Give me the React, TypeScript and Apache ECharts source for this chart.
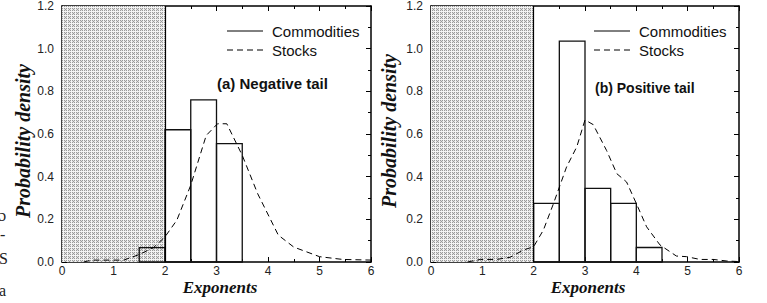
import React, { useEffect, useRef } from "react";
import * as echarts from "echarts";

// ---------- data ----------
const xTicks = [0, 1, 2, 3, 4, 5, 6];
const yTicks = [0, 0.2, 0.4, 0.6, 0.8, 1.0, 1.2];

// Commodities histograms (bin start, bin end, density)
const negBinStart = [1.5, 2.0, 2.5, 3.0];
const negBinEnd = [2.0, 2.5, 3.0, 3.5];
const negCommodities = [0.067, 0.62, 0.76, 0.555];

const posBinStart = [2.0, 2.5, 3.0, 3.5, 4.0];
const posBinEnd = [2.5, 3.0, 3.5, 4.0, 4.5];
const posCommodities = [0.275, 1.035, 0.345, 0.275, 0.068];

// Stocks density curves
const negStocksX = [0.42, 0.58, 1.2, 1.5, 1.78, 2.0, 2.23, 2.5, 2.8, 3.02, 3.2, 3.5, 3.8, 4.2, 4.5, 5.0, 5.45, 6.0];
const negStocksY = [0.0, 0.009, 0.009, 0.035, 0.068, 0.118, 0.196, 0.36, 0.593, 0.648, 0.648, 0.5, 0.32, 0.126, 0.07, 0.025, 0.012, 0.009];

const posStocksX = [0.71, 0.96, 1.28, 1.54, 1.8, 2.0, 2.19, 2.38, 2.64, 2.84, 3.0, 3.16, 3.42, 3.62, 3.81, 4.0, 4.2, 4.46, 4.78, 4.98, 5.24, 5.5, 5.75, 6.0];
const posStocksY = [0.0, 0.012, 0.012, 0.022, 0.056, 0.072, 0.15, 0.27, 0.445, 0.54, 0.666, 0.644, 0.523, 0.414, 0.375, 0.274, 0.165, 0.08, 0.028, 0.025, 0.012, 0.012, 0.005, 0.002];

const levyRegion = [0, 2];
const panelTitles = ["(a) Negative tail", "(b) Positive tail"];
const seriesNames = ["Commodities", "Stocks"];

const SANS = "'Liberation Sans', Arial, Helvetica, sans-serif";
const SERIF = "'Liberation Serif', 'Times New Roman', serif";

function makePattern() {
  const c = document.createElement("canvas");
  c.width = 4;
  c.height = 4;
  const ctx = c.getContext("2d")!;
  ctx.fillStyle = "#f4f4f4";
  ctx.fillRect(0, 0, 4, 4);
  for (let i = 0; i < 3; i++) {
    for (let j = 0; j < 3; j++) {
      ctx.fillStyle = (i + j) % 2 === 0 ? "#9a9a9a" : "#e0e0e0";
      ctx.fillRect(i, j, 1, 1);
    }
  }
  return c;
}

export default function App() {
  const ref = useRef<HTMLDivElement>(null);

  useEffect(() => {
    if (!ref.current) return;
    const chart = echarts.init(ref.current, null, { renderer: "svg" });
    const pattern = makePattern();

    const axisLineStyle = { color: "#000", width: 1.5 };
    const makeX = (gridIndex: number, position: "bottom" | "top") => ({
      type: "value",
      gridIndex,
      position,
      min: xTicks[0],
      max: xTicks[xTicks.length - 1],
      interval: 1,
      axisLine: { show: true, onZero: false, lineStyle: axisLineStyle },
      axisTick: { show: true, inside: true, length: 5, lineStyle: { color: "#000", width: 1 } },
      minorTick: { show: true, splitNumber: 2, length: 3, lineStyle: { color: "#000", width: 1 } },
      splitLine: { show: false },
      axisLabel: {
        show: position === "bottom",
        margin: 3,
        fontSize: 12,
        fontFamily: SANS,
        color: "#222",
        formatter: (v: number) => String(v),
      },
    });
    const makeY = (gridIndex: number, position: "left" | "right") => ({
      type: "value",
      gridIndex,
      position,
      min: yTicks[0],
      max: yTicks[yTicks.length - 1],
      interval: 0.2,
      axisLine: { show: true, onZero: false, lineStyle: axisLineStyle },
      axisTick: { show: true, inside: true, length: 5, lineStyle: { color: "#000", width: 1 } },
      minorTick: { show: true, splitNumber: 2, length: 3, lineStyle: { color: "#000", width: 1 } },
      splitLine: { show: false },
      axisLabel: {
        show: position === "left",
        margin: 8,
        fontSize: 12,
        fontFamily: SANS,
        color: "#222",
        formatter: (v: number) => v.toFixed(1),
      },
    });

    const histRender = (params: any, api: any) => {
      const x0 = api.value(0);
      const x1 = api.value(1);
      const h = api.value(2);
      const p0 = api.coord([x0, h]);
      const p1 = api.coord([x1, 0]);
      return {
        type: "rect",
        shape: { x: p0[0], y: p0[1], width: p1[0] - p0[0], height: p1[1] - p0[1] },
        style: { fill: "none", stroke: "#111", lineWidth: 1.3 },
      };
    };

    const panels = [
      { starts: negBinStart, ends: negBinEnd, vals: negCommodities, sx: negStocksX, sy: negStocksY },
      { starts: posBinStart, ends: posBinEnd, vals: posCommodities, sx: posStocksX, sy: posStocksY },
    ];

    const series: any[] = [];
    panels.forEach((p, i) => {
      series.push({
        type: "line",
        name: "region" + i,
        xAxisIndex: i,
        yAxisIndex: i,
        data: [],
        z: 1,
        silent: true,
        markArea: {
          silent: true,
          itemStyle: { color: { image: pattern, repeat: "repeat" } as any, borderWidth: 0 },
          data: [[{ xAxis: levyRegion[0] }, { xAxis: levyRegion[1] }]],
        },
        markLine: {
          silent: true,
          symbol: "none",
          label: { show: false },
          lineStyle: { color: "#000", width: 1.2, type: "solid" },
          data: [{ xAxis: levyRegion[1] }],
        },
      });
      series.push({
        type: "custom",
        name: seriesNames[0],
        xAxisIndex: i,
        yAxisIndex: i,
        z: 3,
        renderItem: histRender,
        encode: { x: [0, 1], y: 2 },
        data: p.starts.map((s, k) => [s, p.ends[k], p.vals[k]]),
      });
      series.push({
        type: "line",
        name: seriesNames[1],
        xAxisIndex: i,
        yAxisIndex: i,
        z: 4,
        symbol: "none",
        smooth: false,
        lineStyle: { color: "#000", width: 1, type: [6, 4] },
        data: p.sx.map((x, k) => [x, p.sy[k]]),
      });
    });

    const legendGraphic = (x0: number) => [
      { type: "line", shape: { x1: x0, y1: 31, x2: x0 + 36, y2: 31 }, style: { stroke: "#000", lineWidth: 1 } },
      { type: "text", x: x0 + 45, y: 31, style: { text: seriesNames[0], font: `15px ${SANS}`, fill: "#111", verticalAlign: "middle" } },
      { type: "line", shape: { x1: x0, y1: 50, x2: x0 + 36, y2: 50 }, style: { stroke: "#000", lineWidth: 1, lineDash: [6, 4] } },
      { type: "text", x: x0 + 45, y: 50, style: { text: seriesNames[1], font: `15px ${SANS}`, fill: "#111", verticalAlign: "middle" } },
    ];

    const option: any = {
      animation: false,
      grid: [
        { left: 62, top: 5, width: 309, height: 257 },
        { left: 431, top: 5, width: 308, height: 257 },
      ],
      xAxis: [makeX(0, "bottom"), makeX(1, "bottom"), makeX(0, "top"), makeX(1, "top")],
      yAxis: [makeY(0, "left"), makeY(1, "left"), makeY(0, "right"), makeY(1, "right")],
      series,
      graphic: [
        ...legendGraphic(227),
        ...legendGraphic(594),
        { type: "text", x: 217, y: 83, style: { text: panelTitles[0], font: `bold 15px ${SANS}`, fill: "#111", verticalAlign: "middle" } },
        { type: "text", x: 595, y: 88, style: { text: panelTitles[1], font: `bold 14px ${SANS}`, fill: "#111", verticalAlign: "middle" } },
        { type: "text", x: 97, y: 163, rotation: Math.PI / 2, style: { text: "Lévy Stable Region", font: `bold 13px ${SANS}`, fill: "#111", align: "center", verticalAlign: "middle" } },
        { type: "text", x: 468, y: 152, rotation: Math.PI / 2, style: { text: "Lévy Stable Region", font: `bold 13px ${SANS}`, fill: "#111", align: "center", verticalAlign: "middle" } },
        { type: "text", x: 23, y: 141, rotation: Math.PI / 2, style: { text: "Probability density", font: `italic bold 20px ${SERIF}`, fill: "#111", align: "center", verticalAlign: "middle" } },
        { type: "text", x: 389, y: 131, rotation: Math.PI / 2, style: { text: "Probability density", font: `italic bold 20px ${SERIF}`, fill: "#111", align: "center", verticalAlign: "middle" } },
        { type: "text", x: 220, y: 287, style: { text: "Exponents", font: `italic bold 17px ${SERIF}`, fill: "#111", align: "center", verticalAlign: "middle" } },
        { type: "text", x: 588, y: 287, style: { text: "Exponents", font: `italic bold 17px ${SERIF}`, fill: "#111", align: "center", verticalAlign: "middle" } },
        { type: "text", x: -1, y: 215, style: { text: "ɔ", font: `16px ${SERIF}`, fill: "#222", verticalAlign: "middle" } },
        { type: "text", x: 0, y: 234, style: { text: "-", font: `16px ${SERIF}`, fill: "#222", verticalAlign: "middle" } },
        { type: "text", x: -1, y: 258, style: { text: "S", font: `16px ${SERIF}`, fill: "#222", verticalAlign: "middle" } },
        { type: "text", x: -1, y: 290, style: { text: "a", font: `16px ${SERIF}`, fill: "#222", verticalAlign: "middle" } },
      ],
    };

    chart.setOption(option);
    return () => chart.dispose();
  }, []);

  return (
    <div
      ref={ref}
      style={{ position: "absolute", left: 0, top: 0, width: 767, height: 303, background: "#fff" }}
    />
  );
}
